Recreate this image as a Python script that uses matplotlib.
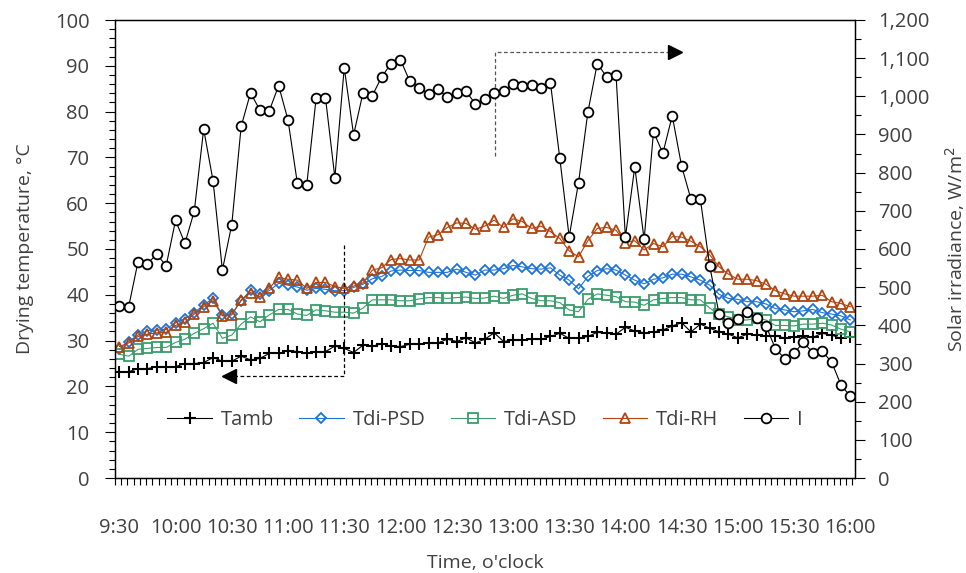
import matplotlib.pyplot as plt
import numpy as np
from matplotlib.ticker import FixedLocator, MultipleLocator, FuncFormatter

plt.rcParams['font.family'] = ['Open Sans', 'DejaVu Sans']

# sampling every 5 min from 9:30 to 16:00
minutes = np.arange(0, 391, 5)
tick_minutes = [0, 30, 60, 90, 120, 150, 180, 210, 240, 270, 300, 330, 360, 390]
tick_labels = ['9:30', '10:00', '10:30', '11:00', '11:30', '12:00', '12:30',
               '13:00', '13:30', '14:00', '14:30', '15:00', '15:30', '16:00']

tamb = [23.2, 23.2, 23.9, 23.9, 24.3, 24.3, 24.3, 25.0, 25.0, 25.2,
        26.3, 25.5, 25.5, 26.6, 25.8, 26.1, 27.2, 27.2, 27.8, 27.6,
        27.2, 27.6, 27.6, 28.8, 28.3, 27.4, 29.0, 28.8, 29.3, 28.8,
        28.7, 29.2, 29.2, 29.5, 29.5, 30.3, 29.8, 30.6, 29.5, 30.3,
        31.7, 29.8, 30.1, 30.1, 30.3, 30.3, 30.9, 31.6, 30.5, 30.5,
        30.9, 31.8, 31.6, 31.4, 32.9, 32.1, 31.7, 31.9, 32.3, 33.2,
        33.9, 31.9, 33.6, 32.7, 31.9, 31.4, 30.6, 31.4, 31.2, 31.0,
        31.0, 30.6, 30.8, 31.0, 30.7, 31.6, 31.2, 30.5, 30.8]

tdi_psd = [28.1, 29.8, 31.2, 32.2, 32.3, 32.5, 33.9, 34.8, 36.1, 37.8,
           39.2, 35.5, 35.8, 38.7, 41.0, 40.2, 40.9, 42.5, 42.1, 41.7,
           41.0, 41.4, 41.2, 40.9, 40.9, 41.6, 42.3, 43.5, 44.0, 45.2,
           45.4, 45.3, 45.3, 44.9, 44.9, 44.9, 45.6, 44.9, 44.3, 45.4,
           45.4, 45.7, 46.4, 46.1, 45.7, 45.6, 45.9, 44.3, 43.2, 41.3,
           44.0, 45.3, 45.7, 45.4, 44.3, 43.2, 42.4, 43.4, 43.7, 44.5,
           44.5, 43.9, 43.2, 42.1, 40.1, 39.2, 39.0, 38.5, 38.5, 38.0,
           37.0, 36.7, 36.3, 36.5, 36.8, 36.1, 35.8, 35.4, 34.5]

tdi_asd = [27.0, 26.6, 28.1, 28.3, 28.5, 28.5, 29.6, 30.3, 31.6, 32.6,
           33.8, 30.5, 31.2, 33.6, 35.2, 34.1, 35.6, 36.8, 36.8, 35.8,
           35.5, 36.7, 36.5, 36.2, 36.2, 36.0, 37.1, 38.9, 38.9, 38.9,
           38.7, 38.7, 39.1, 39.4, 39.4, 39.2, 39.4, 39.5, 39.2, 39.3,
           39.7, 39.2, 39.9, 40.2, 39.2, 38.7, 38.7, 38.3, 36.7, 36.3,
           39.0, 40.2, 39.9, 39.6, 38.5, 38.4, 37.7, 38.9, 39.2, 39.4,
           39.4, 38.9, 38.9, 37.1, 35.7, 35.2, 34.5, 34.5, 34.9, 34.5,
           33.3, 33.3, 33.2, 33.6, 33.6, 33.8, 33.4, 32.5, 31.9]

tdi_rh = [28.7, 29.5, 30.9, 31.4, 31.7, 31.8, 33.3, 34.0, 35.8, 37.4,
          38.7, 35.4, 35.6, 38.9, 40.5, 39.6, 41.4, 43.8, 43.4, 43.2,
          41.4, 42.7, 42.7, 41.8, 41.4, 41.9, 42.6, 45.4, 45.9, 47.7,
          47.9, 47.6, 47.6, 52.6, 53.1, 54.7, 55.7, 55.6, 54.3, 55.0,
          56.3, 54.7, 56.6, 56.0, 54.5, 55.0, 53.8, 52.3, 49.6, 48.3,
          51.8, 54.5, 54.7, 54.1, 51.4, 51.8, 49.8, 51.2, 50.5, 52.7,
          52.6, 51.7, 50.5, 48.7, 46.1, 44.5, 43.4, 43.4, 43.1, 42.3,
          40.9, 40.2, 39.7, 39.7, 39.7, 39.9, 38.5, 38.1, 37.4]

irradiance = [451, 449, 567, 562, 586, 556, 675, 615, 699, 914,
              779, 545, 664, 921, 1009, 964, 962, 1028, 938, 772,
              768, 995, 996, 787, 1075, 899, 1009, 1002, 1051, 1086,
              1096, 1039, 1023, 1006, 1020, 997, 1010, 1013, 980, 992,
              1008, 1014, 1032, 1027, 1031, 1023, 1036, 838, 632, 774,
              959, 1086, 1051, 1057, 631, 815, 625, 907, 851, 949,
              817, 730, 730, 555, 429, 405, 417, 436, 418, 399,
              339, 313, 327, 356, 328, 332, 304, 244, 214]

text_col = '#404040'
blue = '#1E73D7'
green = '#3A9D6B'
brown = '#B0440E'

fig = plt.figure(figsize=(9.66, 5.73), dpi=100)
ax = fig.add_axes([115 / 966, 1 - 478 / 573, 740 / 966, 458 / 573])
ax2 = ax.twinx()

h1, = ax.plot(minutes, tamb, color='black', lw=0.8, marker='+', ms=8, mew=1.5, label='Tamb')
h2, = ax.plot(minutes, tdi_psd, color=blue, lw=0.8, marker='D', ms=5.5, mew=1.3,
              mfc='none', mec=blue, label='Tdi-PSD')
h3, = ax.plot(minutes, tdi_asd, color=green, lw=0.8, marker='s', ms=6.5, mew=1.3,
              mfc='none', mec=green, label='Tdi-ASD')
h4, = ax.plot(minutes, tdi_rh, color=brown, lw=0.8, marker='^', ms=7, mew=1.3,
              mfc='none', mec=brown, label='Tdi-RH')
h5, = ax2.plot(minutes, irradiance, color='black', lw=0.8, marker='o', ms=7, mew=1.3,
               mfc='white', mec='black', label='I')

# dashed arrows pointing to the axes
ax.plot([120, 120, 57], [50.9, 22.3, 22.3], color='black', lw=0.9, ls=(0, (3, 2)))
ax.plot([58.5], [22.3], marker='<', color='black', ms=10)
ax.plot([200.5, 200.5, 297], [70.2, 93.1, 93.1], color='#555555', lw=0.9, ls=(0, (3, 2)))
ax.plot([296.5], [93.1], marker='>', color='black', ms=10)

ax.set_xlim(-2.3, 392.5)
ax.set_ylim(0, 100)
ax2.set_ylim(0, 1200)

ax.xaxis.set_major_locator(FixedLocator(tick_minutes))
ax.set_xticklabels(tick_labels)
ax.xaxis.set_minor_locator(FixedLocator(np.arange(-2.3, 392.6, 10 / 3)))
ax.tick_params(axis='x', which='major', length=0, pad=29, labelsize=14.5, labelcolor=text_col)
ax.tick_params(axis='x', which='minor', length=5, width=0.8, direction='out')

ax.yaxis.set_major_locator(MultipleLocator(10))
ax.yaxis.set_minor_locator(MultipleLocator(2))
ax.tick_params(axis='y', which='major', length=7.5, width=0.8, pad=11, labelsize=14.5, labelcolor=text_col)
ax.tick_params(axis='y', which='minor', length=4.5, width=0.8)

ax2.yaxis.set_major_locator(MultipleLocator(100))
ax2.yaxis.set_minor_locator(MultipleLocator(50))
ax2.yaxis.set_major_formatter(FuncFormatter(lambda v, p: f'{int(v):,}'))
ax2.tick_params(axis='y', which='major', length=7.5, width=0.8, pad=9, labelsize=14.5, labelcolor=text_col)
ax2.tick_params(axis='y', which='minor', length=4.5, width=0.8)

for a in (ax, ax2):
    for s in a.spines.values():
        s.set_linewidth(0.9)

ax.set_xlabel("Time, o'clock", fontsize=14, color=text_col, labelpad=11)
ax.set_ylabel('Drying temperature, °C', fontsize=14, color=text_col, labelpad=15)
ax2.set_ylabel('Solar irradiance, W/m$^{2}$', fontsize=14, color=text_col, labelpad=10)

leg = ax2.legend(handles=[h1, h2, h3, h4, h5], loc='center', bbox_to_anchor=(0.5, 0.127),
                 ncol=5, frameon=False, fontsize=14.5, handlelength=2.2,
                 handletextpad=0.45, columnspacing=1.25)
for t in leg.get_texts():
    t.set_color(text_col)

fig.savefig('out.png', dpi=100)
